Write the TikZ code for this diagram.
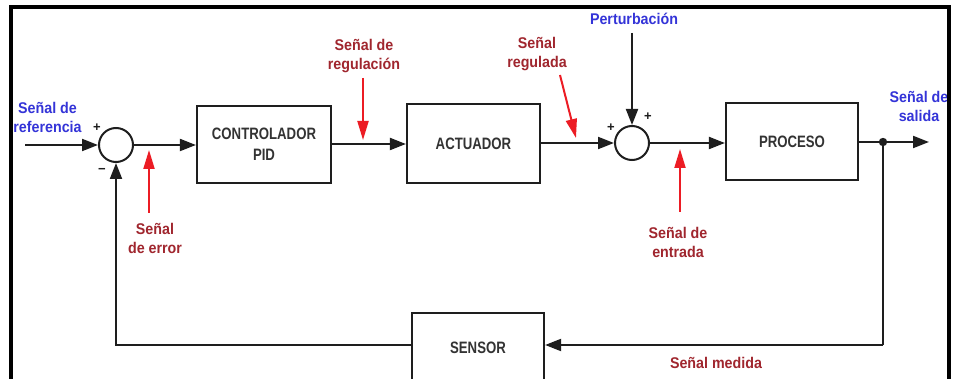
\documentclass[tikz,border=0pt]{standalone}
\usepackage{fontspec}
\setmainfont{Liberation Sans}
\newfontfamily\boxfont{Liberation Sans}[FakeStretch=0.8]
\newfontfamily\labelfont{Liberation Sans}[FakeStretch=0.92]
\usetikzlibrary{arrows.meta,calc}

\definecolor{lineblk}{HTML}{1E1E1E}
\definecolor{boxtxt}{HTML}{333333}
\definecolor{sigblue}{HTML}{3434D8}
\definecolor{sigred}{HTML}{A0262E}
\definecolor{pointred}{HTML}{EC1C24}

\tikzset{
  block/.style={draw=lineblk, line width=2.2pt, fill=white, text=boxtxt,
    font=\boxfont\bfseries\fontsize{16.5}{21}\selectfont, align=center, inner sep=0pt},
  summer/.style={draw=lineblk, line width=2pt, circle, minimum size=34pt, inner sep=0pt},
  flow/.style={draw=lineblk, line width=2pt, -{Triangle[length=16pt,width=12pt]}},
  wire/.style={draw=lineblk, line width=2pt},
  pointer/.style={draw=pointred, line width=2pt, -{Triangle[length=19pt,width=11pt]}},
  bluelabel/.style={text=sigblue, font=\labelfont\bfseries\fontsize{15.5}{19}\selectfont, align=center, inner sep=0pt},
  redlabel/.style={text=sigred, font=\labelfont\bfseries\fontsize{15.5}{19}\selectfont, align=center, inner sep=0pt},
  signlabel/.style={text=lineblk, font=\bfseries\fontsize{13}{13}\selectfont, inner sep=0pt},
}

\begin{document}
\begin{tikzpicture}[x=1pt,y=-1pt]
  \useasboundingbox (0,0) rectangle (953,379);
  \fill[white] (0,0) rectangle (953,379);

  % blocks and summing junctions
  \node[summer] (sum1) at (116,145) {};
  \node[block, minimum width=134pt, minimum height=77pt] (ctrl) at (264,144.5) {CONTROLADOR\\PID};
  \node[block, minimum width=133pt, minimum height=79pt] (act) at (473.5,143.5) {ACTUADOR};
  \node[summer] (sum2) at (632,143) {};
  \node[block, minimum width=132pt, minimum height=77pt] (proc) at (792,141.5) {PROCESO};
  \node[block, minimum width=132pt, minimum height=70pt] (sensor) at (478,348) {SENSOR};

  % signal points
  \coordinate (in) at (25,145);
  \coordinate (pert) at (632,33);
  \coordinate (tap) at (883,142);
  \coordinate (out) at (929,142);
  \coordinate (fb) at (883,345);

  % forward path
  \draw[flow] (in) -- (sum1.west);
  \draw[flow] (sum1.east) -- (sum1.east -| ctrl.west);
  \draw[flow] (ctrl.east |- 0,144) -- (act.west |- 0,144);
  \draw[flow] (act.east |- sum2.west) -- (sum2.west);
  \draw[flow] (sum2.east) -- (sum2.east -| proc.west);
  \draw[flow] (proc.east |- tap) -- (out);
  \draw[flow] (pert) -- (sum2.north);
  \fill[lineblk] (tap) circle (4.2pt);

  % feedback path
  \draw[wire] (tap) -- (fb);
  \draw[flow] (fb) -- (fb -| sensor.east);
  \draw[flow] (fb -| sensor.west) -| (sum1.south);

  % signs at the junctions
  \node[signlabel] (p1) at (97,128) {+};
  \node[signlabel] (m1) at (102,171) {\textminus};
  \node[signlabel] (p2) at (611,128) {+};
  \node[signlabel] (p3) at (648,117) {+};

  % signal name pointers
  \coordinate (e0) at (149,213);   \coordinate (e1) at (149,150);
  \coordinate (r0) at (363,78);    \coordinate (r1) at (363,140);
  \coordinate (g0) at (560,75);    \coordinate (g1) at (576,138);
  \coordinate (n0) at (680,212);   \coordinate (n1) at (680,149);
  \draw[pointer] (e0) -- (e1);
  \draw[pointer] (r0) -- (r1);
  \draw[pointer] (g0) -- (g1);
  \draw[pointer] (n0) -- (n1);

  % labels
  \node[bluelabel] (lref) at (47.5,117) {Señal de\\referencia};
  \node[bluelabel] (lpert) at (634,19) {Perturbación};
  \node[bluelabel] (lout) at (919,106) {Señal de\\salida};
  \node[redlabel] (lerr) at (155,238) {Señal\\de error};
  \node[redlabel] (lreg) at (364,56) {Señal de\\regulación};
  \node[redlabel] (lrgd) at (537,54) {Señal\\regulada};
  \node[redlabel] (lent) at (678,242) {Señal de\\entrada};
  \node[redlabel] (lmed) at (716,363) {Señal medida};

  % outer frame
  \draw[black, line width=4pt] (11,380) -- (11,7) -- (949,7) -- (949,380);
\end{tikzpicture}
\end{document}
